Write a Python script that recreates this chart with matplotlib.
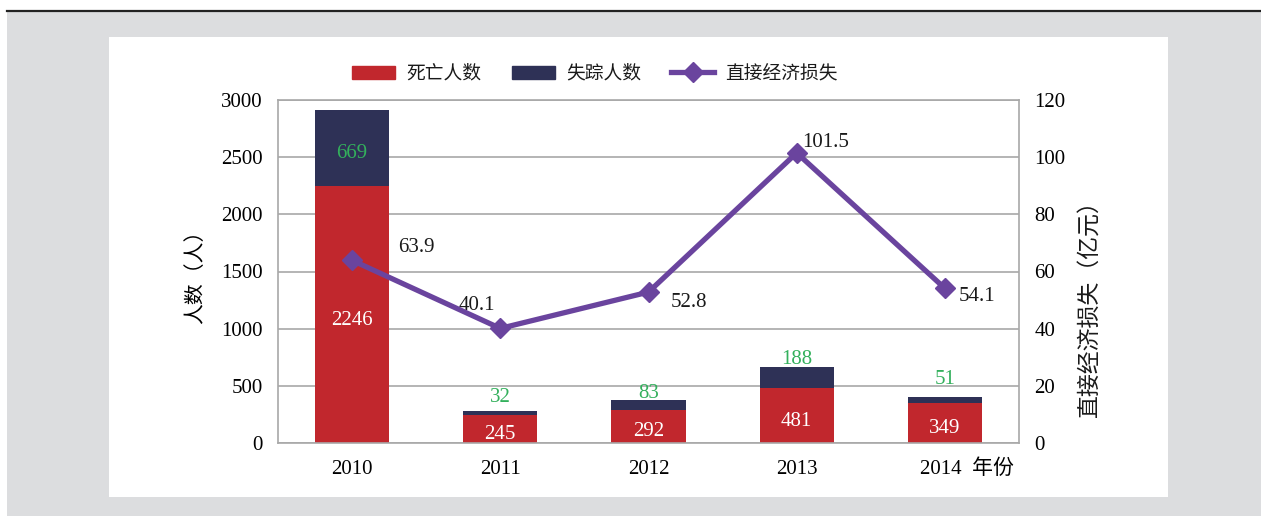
import numpy as np
import matplotlib.pyplot as plt
from matplotlib.patches import Rectangle
from matplotlib.lines import Line2D
import matplotlib.transforms as mtransforms

# 数据
years = ['2010', '2011', '2012', '2013', '2014']
deaths = [2246, 245, 292, 481, 349]
missing = [669, 32, 83, 188, 51]
loss = [63.9, 40.1, 52.8, 101.5, 54.1]

RED = '#c1272d'
NAVY = '#2e3156'
PURPLE = '#6a449e'
GREEN = '#33b05c'
GRID = '#a8a8a8'
FS = 15

plt.rcParams['font.family'] = ['Liberation Serif', 'Noto Sans CJK SC']
plt.rcParams['text.color'] = '#1a1a1a'

W, H = 1261, 516
fig = plt.figure(figsize=(W / 100, H / 100), dpi=100, facecolor='white')

def px(x0, y0, x1, y1):
    # 像素框 -> figure 坐标
    return (x0 / W, 1 - y1 / H, (x1 - x0) / W, (y1 - y0) / H)

# 灰色底板 + 白色面板 + 顶部黑线
for box, col in [(px(7, 12, W, H), '#dcdddf'), (px(109, 37, 1168, 497), 'white')]:
    fig.patches.append(Rectangle(box[:2], box[2], box[3], transform=fig.transFigure,
                                 facecolor=col, edgecolor='none', zorder=-10))
fig.lines.append(Line2D([7 / W, 1], [1 - 11 / H] * 2, transform=fig.transFigure,
                        color='#222222', lw=1.6, zorder=-5))

ax = fig.add_axes(px(278, 100, 1019, 443))
ax.set_facecolor('none')
x = np.arange(len(years))
bw = 0.5

ax.bar(x, deaths, bw, color=RED, zorder=2)
ax.bar(x, missing, bw, bottom=deaths, color=NAVY, zorder=2)

ax.set_xlim(-0.5, len(years) - 0.5)
ax.set_ylim(0, 3000)
ax.set_yticks(np.arange(0, 3001, 500))
ax.yaxis.grid(True, color=GRID, lw=1.2, zorder=0)
ax.set_axisbelow(True)
for s in ax.spines.values():
    s.set_color(GRID)
    s.set_linewidth(1.2)
ax.tick_params(length=0, labelsize=FS, pad=11)
ax.tick_params(axis='x', pad=12)
ax.set_xticks(x)
ax.set_xticklabels(years[:-1] + [years[-1] + '  年份'])
last = ax.get_xticklabels()[-1]
last.set_transform(last.get_transform() + mtransforms.ScaledTranslation(22 / 100, 0, fig.dpi_scale_trans))
ax.set_ylabel('人数（人）', fontsize=15, labelpad=11)

# 柱内/柱上数值
miss_off = [None, 17, 9, 10, 21]
for i in range(len(years)):
    ax.annotate(str(deaths[i]), (x[i], deaths[i] / 2), xytext=(0, -4),
                textcoords='offset points', color='white', fontsize=FS,
                ha='center', va='center', zorder=3)
    if miss_off[i] is None:
        ax.annotate(str(missing[i]), (x[i], deaths[i] + missing[i] / 2), xytext=(0, -4),
                    textcoords='offset points', color=GREEN, fontsize=FS,
                    ha='center', va='center', zorder=3)
    else:
        ax.annotate(str(missing[i]), (x[i], deaths[i] + missing[i]),
                    xytext=(0, miss_off[i] * 0.72 - 2), textcoords='offset points',
                    color=GREEN, fontsize=FS, ha='center', va='center')

ax2 = ax.twinx()
ax2.set_ylim(0, 120)
ax2.set_yticks(np.arange(0, 121, 20))
ax2.tick_params(length=0, labelsize=FS, pad=11)
for s in ax2.spines.values():
    s.set_visible(False)
ax2.plot(x, loss, color=PURPLE, lw=3.8, marker='D', markersize=10, zorder=4)

loss_off = [(64, -16), (-23, -26), (40, 8), (29, -13), (32, 5)]
for i, v in enumerate(loss):
    dx, dy = loss_off[i]
    ax2.annotate(f'{v}', (x[i], v), xytext=(dx * 0.72, -dy * 0.72 - 2),
                 textcoords='offset points', fontsize=FS, ha='center', va='center')

fig.text(1090 / W, 1 - 303 / H, '直接经济损失（亿元）', rotation=90, fontsize=16.5,
         ha='center', va='center')

handles = [Rectangle((0, 0), 1, 1, color=RED), Rectangle((0, 0), 1, 1, color=NAVY),
           Line2D([], [], color=PURPLE, lw=3.8, marker='D', markersize=10)]
fig.legend(handles, ['死亡人数', '失踪人数', '直接经济损失'], loc='center',
           bbox_to_anchor=(595 / W, 1 - 74 / H), ncol=3, frameon=False, fontsize=13.5,
           handlelength=2.3, handleheight=0.7, handletextpad=0.6, columnspacing=1.6)

fig.savefig('out.png', dpi=100)
